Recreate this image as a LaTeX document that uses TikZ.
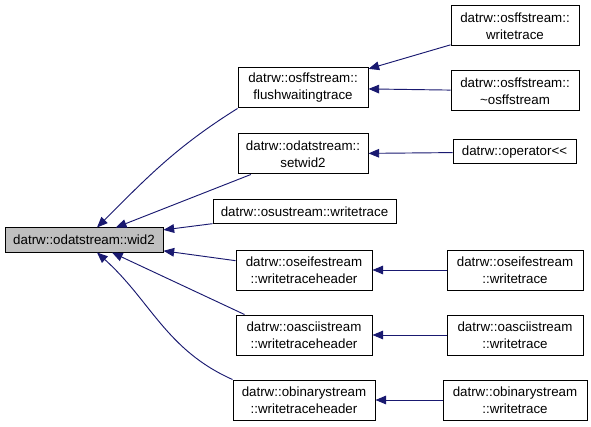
\documentclass[tikz,border=0pt]{standalone}
\usepackage{fontspec}
\setmainfont{Liberation Sans}
\usetikzlibrary{arrows.meta}
\definecolor{EdgeBlue} {HTML}{191970}
\definecolor{RootGray} {HTML}{BFBFBF}

\begin{document}
\begin{tikzpicture}[x=0.75pt,y=0.75pt,
  fn/.style={draw=black,fill=white,line width=0.75pt,inner sep=0pt,align=center,
             font=\fontsize{10}{12.75}\selectfont,minimum height=18pt},
  fn2/.style={fn,minimum height=30pt},
  call/.style={draw=EdgeBlue,line width=0.7pt,
               -{Triangle[length=8pt,width=6.5pt]}}]
  \useasboundingbox (0,0) rectangle (591,-427);
  % callee
  \node[fn,fill=RootGray,minimum width=118.5pt] (wid2) at (84,-240) {datrw::odatstream::wid2};
  % direct callers
  \node[fn2,minimum width=97.5pt] (flushtrace) at (303,-88) {datrw::osffstream::\\flushwaitingtrace};
  \node[fn2,minimum width=97.5pt] (setwid) at (303,-154) {datrw::odatstream::\\setwid2};
  \node[fn,minimum width=137.25pt] (osuwrite) at (304.5,-212) {datrw::osustream::writetrace};
  \node[fn2,minimum width=102pt] (seifhdr) at (304,-270) {datrw::oseifestream\\::writetraceheader};
  \node[fn2,minimum width=102pt] (asciihdr) at (304,-335) {datrw::oasciistream\\::writetraceheader};
  \node[fn2,minimum width=106.5pt] (binhdr) at (304,-400) {datrw::obinarystream\\::writetraceheader};
  % second level
  \node[fn2,minimum width=96pt] (osffwrite) at (515,-26) {datrw::osffstream::\\writetrace};
  \node[fn2,minimum width=96pt] (osffdtor) at (515,-91) {datrw::osffstream::\\\textasciitilde osffstream};
  \node[fn,minimum width=92.25pt] (oper) at (514.5,-152) {datrw::operator{<}{<}};
  \node[fn2,minimum width=102pt] (seifwrite) at (515,-270) {datrw::oseifestream\\::writetrace};
  \node[fn2,minimum width=102pt] (asciiwrite) at (515,-335) {datrw::oasciistream\\::writetrace};
  \node[fn2,minimum width=108pt] (binwrite) at (515,-400) {datrw::obinarystream\\::writetrace};

  \draw[call] (flushtrace.south west) to[out=212,in=45] ([xshift=9.75pt]wid2.north);
  \draw[call] (setwid) -- (wid2);
  \draw[call] (osuwrite) -- (wid2);
  \draw[call] (seifhdr) -- (wid2);
  \draw[call] ([xshift=6.75pt]asciihdr.north west) -- ([xshift=21pt]wid2.south);
  \draw[call] (binhdr.north west) to[out=156,in=-42] ([xshift=9.75pt]wid2.south);

  \draw[call] (osffwrite) -- (flushtrace);
  \draw[call] (osffdtor) -- (flushtrace);
  \draw[call] (oper) -- (setwid);
  \draw[call] (seifwrite) -- (seifhdr);
  \draw[call] (asciiwrite) -- (asciihdr);
  \draw[call] (binwrite) -- (binhdr);
\end{tikzpicture}
\end{document}
